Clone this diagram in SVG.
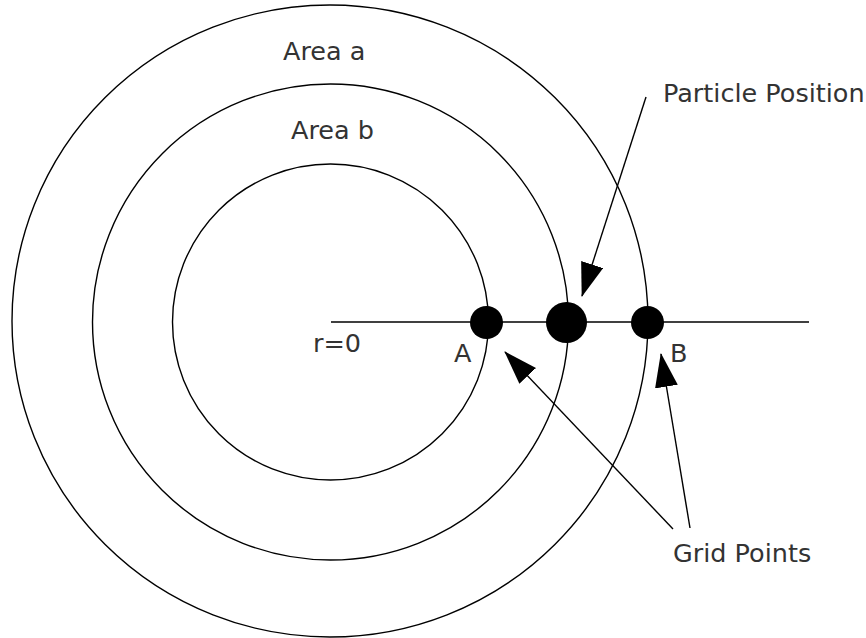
<svg xmlns="http://www.w3.org/2000/svg" width="866" height="638" viewBox="0 0 866 638">
<style>
.ring{fill:none;stroke:#000;stroke-width:1.4}
.axis{stroke:#000;stroke-width:1.4}
.dot{fill:#000}
.lbl{font-family:"DejaVu Sans",sans-serif;font-size:25.5px;fill:#333}
.arr{stroke:#000;stroke-width:1.4;fill:none;marker-end:url(#head)}
</style>
<defs>
<marker id="head" viewBox="0 0 34 23" refX="33" refY="11.5" markerWidth="34" markerHeight="23" markerUnits="userSpaceOnUse" orient="auto">
<path d="M0,0 L34,11.5 L0,23 z" fill="#000"/>
</marker>
</defs>
<rect width="866" height="638" fill="#fff"/>
<g id="outer-circle"><ellipse class="ring" cx="330" cy="321" rx="318" ry="316"/></g>
<g id="middle-circle"><circle class="ring" cx="330.5" cy="322" r="238"/></g>
<g id="inner-circle"><circle class="ring" cx="330.5" cy="322" r="158"/></g>
<g id="axis"><line class="axis" x1="331" y1="322" x2="809" y2="322"/></g>
<g id="point-A"><circle class="dot" cx="486.5" cy="322.5" r="16.5"/></g>
<g id="particle"><circle class="dot" cx="566.5" cy="322.5" r="20.5"/></g>
<g id="point-B"><circle class="dot" cx="647.5" cy="322.5" r="16.5"/></g>
<g id="labels">
<text class="lbl" x="283" y="60">Area a</text>
<text class="lbl" x="291" y="139">Area b</text>
<text class="lbl" x="663" y="102">Particle Position</text>
<text class="lbl" x="313" y="352">r=0</text>
<text class="lbl" x="454" y="362">A</text>
<text class="lbl" x="670" y="362">B</text>
<text class="lbl" x="673" y="562">Grid Points</text>
</g>
<g id="connectors">
<line class="arr" x1="646" y1="97" x2="582" y2="296"/>
<line class="arr" x1="673" y1="529" x2="505" y2="352"/>
<line class="arr" x1="690" y1="528" x2="661" y2="354"/>
</g>
</svg>
